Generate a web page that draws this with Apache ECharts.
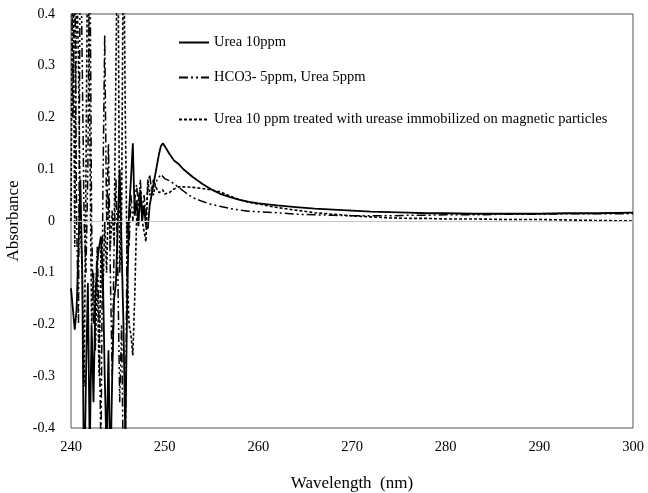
<!DOCTYPE html>
<html>
<head>
<meta charset="utf-8">
<script src="https://cdn.jsdelivr.net/npm/echarts@6/dist/echarts.min.js"></script>
<style>
  html, body { margin: 0; padding: 0; background: #fff; }
  #main { width: 648px; height: 493px; }
</style>
</head>
<body>
<div id="main"></div>
<script>
// wavelength (nm)
var wavelength = [240.0, 240.2, 240.4, 240.6, 240.8, 241.0, 241.2, 241.4, 241.6, 241.8,
  242.0, 242.2, 242.4, 242.6, 242.8, 243.0, 243.2, 243.4, 243.6, 243.8,
  244.0, 244.2, 244.4, 244.6, 244.8, 245.0, 245.2, 245.4, 245.6, 245.8,
  246.0, 246.2, 246.4, 246.6, 246.8, 247.0, 247.2, 247.4, 247.6, 247.8,
  248.0, 248.2, 248.4, 248.6, 248.8, 249.0, 249.2, 249.4, 249.6, 249.8,
  250.0, 250.5, 251, 251.5, 252, 253, 254, 255, 256, 257, 258, 259, 260,
  262, 264, 266, 268, 270, 272, 274, 276, 278, 280, 283, 286, 290, 293, 296, 300];

// Urea 10ppm
var urea10 = [-0.13, -0.17, -0.21, -0.17, -0.05, 0.08, -0.1, -0.55, -0.3, -0.12,
  -0.45, -0.2, -0.35, -0.15, -0.08, -0.05, -0.03, -0.1, -0.3, -0.45,
  -0.25, -0.5, -0.3, -0.15, -0.12, 0.0, 0.1, -0.05, -0.2, -0.42,
  -0.15, 0.02, 0.08, 0.15, 0.01, 0.04, -0.01, 0.06, 0.0, 0.03,
  -0.01, -0.015, 0.03, 0.05, 0.07, 0.09, 0.11, 0.13, 0.145, 0.15,
  0.145, 0.13, 0.117, 0.11, 0.1, 0.085, 0.072, 0.061, 0.052, 0.046, 0.041, 0.037, 0.034,
  0.03, 0.027, 0.024, 0.022, 0.02, 0.018, 0.017, 0.016, 0.015, 0.015, 0.014, 0.014, 0.014, 0.015, 0.015, 0.016];

// HCO3- 5ppm, Urea 5ppm
var hco3Urea = [0.6, 0.2, 0.5, 0.0, -0.2, 0.6, 0.3, 0.0, -0.1, 0.1,
  0.6, 0.0, -0.2, -0.15, -0.05, -0.2, -0.45, 0.05, 0.36, 0.0,
  0.15, -0.1, -0.3, -0.05, 0.08, -0.1, -0.35, -0.2, -0.5, -0.45,
  0.0, -0.05, 0.05, 0.0, 0.04, 0.07, 0.03, 0.08, 0.02, 0.05,
  0.01, 0.07, 0.09, 0.06, 0.08, 0.07, 0.08, 0.085, 0.09, 0.088,
  0.082, 0.078, 0.072, 0.065, 0.058, 0.045, 0.038, 0.032, 0.028, 0.024, 0.021, 0.019, 0.018,
  0.016, 0.013, 0.012, 0.011, 0.01, 0.01, 0.01, 0.011, 0.011, 0.012, 0.012, 0.013, 0.013, 0.014, 0.014, 0.014];

// Urea 10 ppm treated with urease
var treated = [0.0, 0.6, -0.05, 0.5, 0.3, 0.0, -0.1, -0.32, 0.1, 0.6,
  0.2, -0.2, -0.1, -0.25, -0.1, -0.3, -0.05, -0.15, 0.0, -0.1,
  0.05, -0.05, 0.02, -0.04, 0.3, 0.6, -0.1, 0.0, 0.6, 0.2,
  -0.1, -0.2, -0.22, -0.26, -0.15, 0.0, 0.04, 0.06, 0.0, -0.02,
  -0.04, 0.08, 0.05, 0.06, 0.05, 0.07, 0.06, 0.055, 0.058, 0.06,
  0.052, 0.055, 0.062, 0.066, 0.066, 0.065, 0.063, 0.06, 0.056, 0.048, 0.041, 0.036, 0.033,
  0.026, 0.021, 0.016, 0.013, 0.01, 0.008, 0.006, 0.005, 0.005, 0.004, 0.004, 0.003, 0.003, 0.002, 0.001, 0.0];

var names = ['Urea 10ppm', 'HCO3- 5ppm, Urea 5ppm',
  'Urea 10 ppm treated with urease immobilized on magnetic particles'];

function pairs(vals) {
  return wavelength.map(function (w, i) { return [w, vals[i]]; });
}

var font = 'Liberation Serif, Times New Roman, serif';
var chart = echarts.init(document.getElementById('main'));

function legendAt(name, top) {
  return {
    data: [name],
    left: 173,
    top: top,
    itemWidth: 30,
    itemHeight: 10,
    itemGap: 2,
    itemStyle: { opacity: 0 },
    lineStyle: { opacity: 1 },
    textStyle: { fontFamily: font, fontSize: 14.5, color: '#000' },
    selectedMode: false
  };
}

chart.setOption({
  animation: false,
  backgroundColor: '#fff',
  grid: {
    left: 71, right: 15, top: 14, bottom: 65,
    outerBoundsMode: 'none',
    containLabel: false,
    show: true, borderColor: '#555', borderWidth: 1
  },
  legend: [legendAt(names[0], 30), legendAt(names[1], 65), legendAt(names[2], 107)],
  xAxis: {
    type: 'value',
    min: 240, max: 300, interval: 10,
    name: 'Wavelength  (nm)',
    nameLocation: 'middle',
    nameGap: 47,
    nameTextStyle: { fontFamily: font, fontSize: 17, color: '#000' },
    axisLine: { show: false },
    axisTick: { show: false },
    splitLine: { show: false },
    axisLabel: { fontFamily: font, fontSize: 14.5, color: '#000', margin: 12 }
  },
  yAxis: {
    type: 'value',
    min: -0.4, max: 0.4, interval: 0.1,
    name: 'Absorbance',
    nameLocation: 'middle',
    nameGap: 49,
    nameTextStyle: { fontFamily: font, fontSize: 17, color: '#000' },
    axisLine: { show: false },
    axisTick: { show: false },
    splitLine: { show: false },
    axisLabel: { fontFamily: font, fontSize: 14, color: '#000', margin: 16 }
  },
  series: [{
    name: names[0],
    type: 'line',
    data: pairs(urea10),
    symbol: 'none',
    lineStyle: { color: '#000', width: 1.8, type: 'solid' },
    itemStyle: { color: '#000' },
    markLine: {
      silent: true,
      symbol: 'none',
      label: { show: false },
      lineStyle: { color: '#c8c8c8', width: 1, type: 'solid' },
      data: [{ yAxis: 0 }]
    },
    z: 3
  }, {
    name: names[1],
    type: 'line',
    data: pairs(hco3Urea),
    symbol: 'none',
    lineStyle: { color: '#000', width: 1.5, type: [9, 3, 2, 3, 2, 3] },
    itemStyle: { color: '#000' },
    z: 2
  }, {
    name: names[2],
    type: 'line',
    data: pairs(treated),
    symbol: 'none',
    lineStyle: { color: '#000', width: 1.6, type: [3, 2] },
    itemStyle: { color: '#000' },
    z: 2
  }]
});
</script>
</body>
</html>
